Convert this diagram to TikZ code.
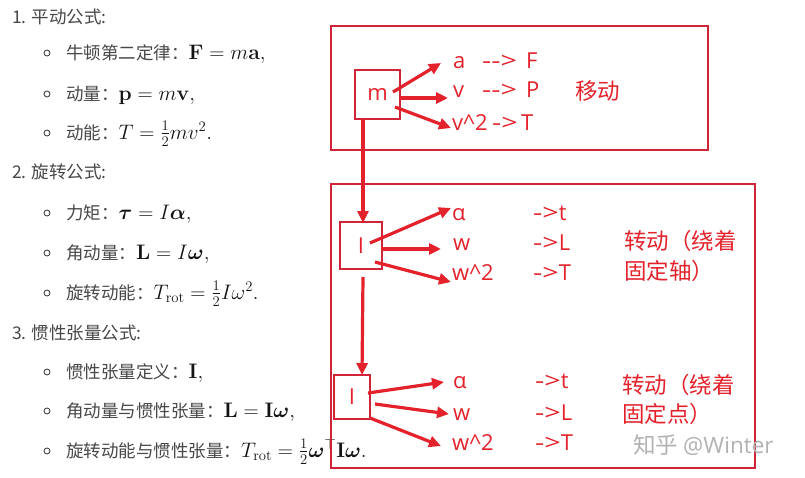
\RequirePackage{fix-cm}
\documentclass[tikz,border=0pt]{standalone}
\usepackage{amsmath,amssymb}
\usepackage{graphicx}
\usepackage[no-math]{fontspec}
\newfontfamily\cjk{Noto Sans CJK SC}
\newfontfamily\lat{Open Sans}
\usetikzlibrary{arrows.meta}
\definecolor{rd}{RGB}{228,34,44}
\definecolor{bxred}{RGB}{208,36,56}
\definecolor{txtgray}{RGB}{72,72,72}
\definecolor{mathc}{RGB}{20,20,20}
\newcommand{\mth}[1]{{\color{mathc}\fontsize{21}{24}\selectfont$#1$}}
\newcommand{\la}[1]{{\lat #1}}
\newcommand{\darr}{\scalebox{1.3}[1]{\mbox{-}\mbox{-}>}}
\newcommand{\sarr}{\scalebox{1.3}[1]{->}}
\begin{document}
\begin{tikzpicture}[x=1pt,y=-1pt,
  lt/.style={anchor=base west,inner sep=0pt,text=txtgray,font=\cjk\fontsize{17.5}{20}\selectfont},
  rt/.style={anchor=base west,inner sep=0pt,text=rd,font=\lat\fontsize{22}{26}\selectfont},
  rtc/.style={anchor=base west,inner sep=0pt,text=rd,font=\cjk\fontsize{22.5}{26}\selectfont},
  wm/.style={anchor=base west,inner sep=0pt,text=black!30,font=\cjk\fontsize{22.5}{26}\selectfont},
  bx/.style={draw=bxred,line width=2.6pt,inner sep=0pt},
  ibx/.style={draw=bxred,line width=2.6pt,inner sep=0pt,text=rd,font=\lat\fontsize{22}{26}\selectfont},
  bul/.style={draw=txtgray,line width=0.9pt},
  ar/.style={draw=rd,line width=3.2pt,-{Triangle[length=12pt,width=11pt]}},
  ]
\useasboundingbox (0,0) rectangle (805,477);
\fill[white] (0,0) rectangle (805,477);

% ---------- left text ----------
\node[lt] (h1) at (12,23) {1. 平动公式:};
\draw[bul] (47,53) circle (3);
\node[lt] (r1) at (66,59) {牛顿第二定律：\mth{\mathbf{F} = m\mathbf{a},}};
\draw[bul] (47,94) circle (3);
\node[lt] (r2) at (66,100) {动量：\mth{\mathbf{p} = m\mathbf{v},}};
\draw[bul] (47,133) circle (3);
\node[lt] (r3) at (66,139) {动能：\mth{T = \tfrac{1}{2}mv^2.}};

\node[lt] (h2) at (12,178) {2. 旋转公式:};
\draw[bul] (47,213) circle (3);
\node[lt] (r4) at (66,219) {力矩：\mth{\boldsymbol{\tau} = I\boldsymbol{\alpha},}};
\draw[bul] (47,253) circle (3);
\node[lt] (r5) at (66,259) {角动量：\mth{\mathbf{L} = I\boldsymbol{\omega},}};
\draw[bul] (47,293) circle (3);
\node[lt] (r6) at (66,299) {旋转动能：\mth{T_{\mathrm{rot}} = \tfrac{1}{2}I\omega^2.}};

\node[lt] (h3) at (12,339) {3. 惯性张量公式:};
\draw[bul] (47,372) circle (3);
\node[lt] (r7) at (66,378) {惯性张量定义：\mth{\mathbf{I},}};
\draw[bul] (47,411) circle (3);
\node[lt] (r8) at (66,417) {角动量与惯性张量：\mth{\mathbf{L} = \mathbf{I}\boldsymbol{\omega},}};
\draw[bul] (47,451) circle (3);
\node[lt] (r9) at (66,457) {旋转动能与惯性张量：\mth{T_{\mathrm{rot}} = \tfrac{1}{2}\boldsymbol{\omega}^{\top}\mathbf{I}\boldsymbol{\omega}.}};

% ---------- outer boxes ----------
\node[bx,minimum width=377,minimum height=124] (g1) at (519.5,88) {};
\node[bx,minimum width=424,minimum height=284] (g2) at (543,326) {};

% ---------- top group ----------
\node[ibx,minimum width=45,minimum height=49] (m) at (377.5,94.5) {m};
\node[rt] (ta) at (453,68) {a};
\node[rt] (tar1) at (482,68) {\darr};
\node[rt] (tF) at (526,68) {F};
\node[rt] (tv) at (453,97) {v};
\node[rt] (tar2) at (482,97) {\darr};
\node[rt] (tP) at (526,97) {P};
\node[rt] (tv2) at (452,130) {v\textasciicircum 2};
\node[rt] (tar3) at (492,130) {\sarr};
\node[rt] (tT) at (521,130) {T};
\node[rtc] (tmv) at (575,99) {移动};

\coordinate (sa1) at (393,92);  \coordinate (ea1) at (441,63);
\coordinate (sa2) at (400,98);  \coordinate (ea2) at (448,98);
\coordinate (sa3) at (395,107); \coordinate (ea3) at (451,128);
\draw[ar] (sa1) -- (ea1);
\draw[ar] (sa2) -- (ea2);
\draw[ar] (sa3) -- (ea3);

% ---------- middle group ----------
\node[ibx,minimum width=42,minimum height=47] (I1) at (361,245.5) {I};
\node[rt] (ba) at (452,220) {α};
\node[rt] (bt) at (533,220) {\sarr t};
\node[rt] (bw) at (453,250) {w};
\node[rt] (bL) at (533,250) {\sarr L};
\node[rt] (bw2) at (452,280) {w\textasciicircum 2};
\node[rt] (bT) at (533,280) {\sarr T};
\node[rtc] (bz1) at (624,249) {转动（绕着};
\node[rtc] (bz2) at (624,279) {固定轴）};

\coordinate (sb1) at (370,243); \coordinate (eb1) at (451,208);
\coordinate (sb2) at (382,249); \coordinate (eb2) at (441,249);
\coordinate (sb3) at (375,262); \coordinate (eb3) at (451,282);
\draw[ar] (sb1) -- (eb1);
\draw[ar] (sb2) -- (eb2);
\draw[ar] (sb3) -- (eb3);

% ---------- bottom group ----------
\node[ibx,minimum width=36,minimum height=44] (I2) at (352,397) {I};
\node[rt] (ca) at (453,388) {α};
\node[rt] (ct) at (535,388) {\sarr t};
\node[rt] (cw) at (453,420) {w};
\node[rt] (cL) at (535,420) {\sarr L};
\node[rt] (cw2) at (452,450) {w\textasciicircum 2};
\node[rt] (cT) at (535,450) {\sarr T};
\node[rtc] (cz1) at (622,393) {转动（绕着};
\node[rtc] (cz2) at (622,422) {固定点）};
\node[wm] (wmk) at (633,453) {知乎 \la{@Winter}};

\coordinate (sc1) at (368,393); \coordinate (ec1) at (444,382);
\coordinate (sc2) at (375,404); \coordinate (ec2) at (449,414);
\coordinate (sc3) at (370,418); \coordinate (ec3) at (441,446);
\draw[ar] (sc1) -- (ec1);
\draw[ar] (sc2) -- (ec2);
\draw[ar] (sc3) -- (ec3);

% ---------- vertical connectors ----------
\coordinate (v1s) at (363,119); \coordinate (v1e) at (363,223);
\coordinate (v2s) at (363,277); \coordinate (v2e) at (362,375);
\draw[ar] (v1s) -- (v1e);
\draw[ar] (v2s) -- (v2e);
\end{tikzpicture}
\end{document}
